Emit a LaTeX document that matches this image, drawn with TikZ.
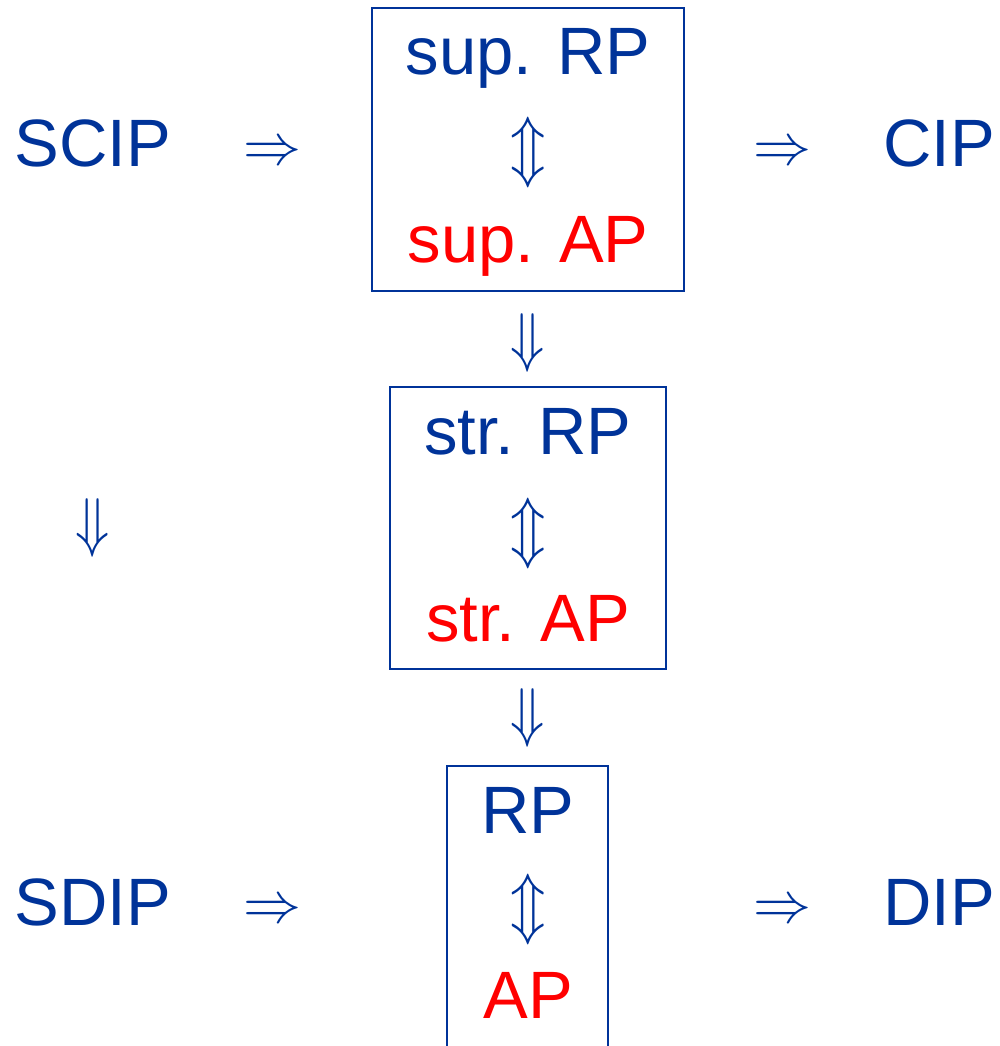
\documentclass[tikz,border=0pt]{standalone}
\usepackage{fontspec}
\setmainfont{Liberation Sans}
\usetikzlibrary{positioning}
\definecolor{ipblue}{RGB}{0,51,153}
\definecolor{ipred}{RGB}{255,0,0}
\newcommand{\CX}{528}
\newcommand{\LX}{93}
\newcommand{\RX}{939}
\newcommand{\bigimp}{\scalebox{5.8}{$\Rightarrow$}}
\newcommand{\bigdown}{\scalebox{5.6}[6.6]{$\Downarrow$}}
\newcommand{\bigequiv}{\scalebox{5.8}[6.8]{$\Updownarrow$}}

\begin{document}
\begin{tikzpicture}[
    x=1pt, y=-1pt,
    lbl/.style={text=ipblue, font=\fontsize{67}{80}\selectfont, inner sep=0pt, anchor=base},
    ap/.style={lbl, text=ipred},
    arr/.style={text=ipblue, inner sep=0pt},
    frame/.style={draw=ipblue, line width=1.6pt},
  ]
  \useasboundingbox (0,0) rectangle (1000,1046);

  %% the three boxes (the last runs off the page)
  \draw[frame] (372,8) rectangle (684,291);
  \draw[frame] (390,387) rectangle (666,669);
  \draw[frame] (447,766) rectangle (608,1080);

  %% top box
  \node[lbl] (supRP) at (\CX,75)  {sup. RP};
  \node[arr] (eq1)   at (\CX,152) {\bigequiv};
  \node[ap]  (supAP) at (\CX,262) {sup. AP};
  \node[arr] (dn1)   at (\CX,343) {\bigdown};

  %% middle box
  \node[lbl] (strRP) at (\CX,454) {str. RP};
  \node[arr] (eq2)   at (\CX,533) {\bigequiv};
  \node[ap]  (strAP) at (\CX,641) {str. AP};
  \node[arr] (dn2)   at (\CX,718) {\bigdown};

  %% bottom box
  \node[lbl] (RP)  at (\CX,833)  {RP};
  \node[arr] (eq3) at (\CX,909)  {\bigequiv};
  \node[ap]  (AP)  at (\CX,1018) {AP};

  %% outer columns
  \node[lbl] (SCIP) at (\LX,166) {SCIP};
  \node[lbl] (CIP)  at (\RX,166) {CIP};
  \node[lbl] (SDIP) at (\LX,925) {SDIP};
  \node[lbl] (DIP)  at (\RX,925) {DIP};
  \node[arr] (dnL)  at (\LX,528) {\bigdown};
  \foreach \y/\n in {154/a, 912/b} {
    \node[arr] (imL\n) at (272,\y) {\bigimp};
    \node[arr] (imR\n) at (782,\y) {\bigimp};
  }

\end{tikzpicture}
\end{document}
